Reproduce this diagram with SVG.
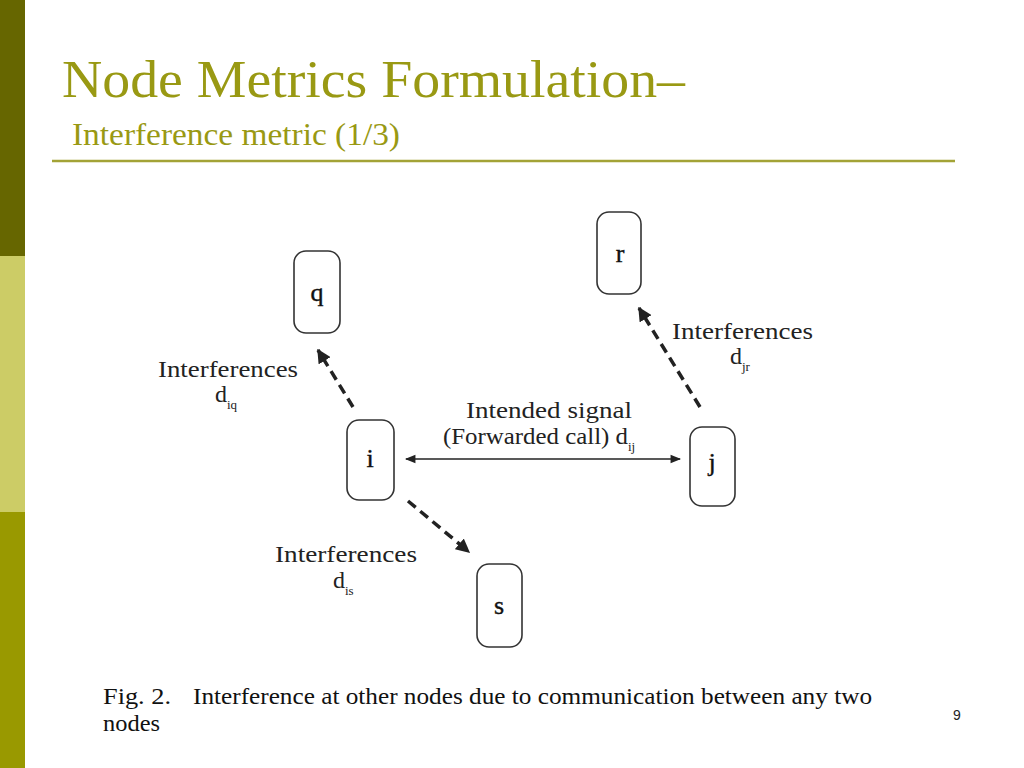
<svg xmlns="http://www.w3.org/2000/svg" width="1024" height="768" viewBox="0 0 1024 768">
<style>
.node rect{fill:#fff;stroke:#333;stroke-width:1.6}
.nl{font-family:"Liberation Serif",serif;font-size:26px;fill:#111;text-anchor:middle;stroke:#111;stroke-width:0.4}
.lbl{font-family:"Liberation Serif",serif;font-size:24px;fill:#222}
.sub{font-size:13px}
.dash{stroke:#222;stroke-width:3.5;stroke-dasharray:10,6;fill:none}
.solid{stroke:#222;stroke-width:1.5;fill:none}
.cap{font-family:"Liberation Serif",serif;font-size:23px;fill:#111}
</style>
<defs>
<marker id="ah" viewBox="0 0 10 10" refX="9" refY="5" markerWidth="4" markerHeight="4" orient="auto" markerUnits="strokeWidth"><path d="M0,0 L10,5 L0,10 z" fill="#222"/></marker>
<marker id="ah2" viewBox="0 0 10 10" refX="9" refY="5" markerWidth="9" markerHeight="7" orient="auto-start-reverse" markerUnits="strokeWidth"><path d="M0,1 L10,5 L0,9 z" fill="#222"/></marker>
</defs>
<rect width="1024" height="768" fill="#fff"/>
<g id="sidebar">
<rect x="0" y="0" width="25" height="256" fill="#666600"/>
<rect x="0" y="256" width="25" height="256" fill="#CCCC66"/>
<rect x="0" y="512" width="25" height="256" fill="#999900"/>
</g>
<g id="title">
<text x="62" y="97" font-family="Liberation Serif,serif" font-size="52" fill="#999913" textLength="623" lengthAdjust="spacingAndGlyphs">Node Metrics Formulation–</text>
<text x="72" y="145" font-family="Liberation Serif,serif" font-size="31" fill="#999913" textLength="328" lengthAdjust="spacingAndGlyphs">Interference metric (1/3)</text>
<line x1="52" y1="161" x2="955" y2="161" stroke="#A3A336" stroke-width="2.5"/>
</g>
<g id="connectors">
<line class="dash" x1="353" y1="407" x2="318" y2="350" marker-end="url(#ah)"/>
<line class="dash" x1="700" y1="407" x2="639" y2="308" marker-end="url(#ah)"/>
<line class="dash" x1="408" y1="501" x2="469" y2="552" marker-end="url(#ah)"/>
<line class="solid" x1="406" y1="459" x2="680" y2="459" marker-start="url(#ah2)" marker-end="url(#ah2)"/>
</g>
<g id="node-q" class="node"><rect x="294" y="251" width="46" height="82" rx="12"/><text class="nl" x="317" y="301">q</text></g>
<g id="node-i" class="node"><rect x="347" y="420" width="47" height="80" rx="12"/><text class="nl" x="370" y="467">i</text></g>
<g id="node-r" class="node"><rect x="597" y="212" width="44" height="82" rx="12"/><text class="nl" x="620" y="262">r</text></g>
<g id="node-j" class="node"><rect x="690" y="427" width="45" height="79" rx="12"/><text class="nl" x="712" y="471">j</text></g>
<g id="node-s" class="node"><rect x="477" y="564" width="45" height="83" rx="12"/><text class="nl" x="499" y="614">s</text></g>
<g id="labels">
<text class="lbl" x="158" y="377" textLength="140" lengthAdjust="spacingAndGlyphs">Interferences</text>
<text class="lbl" x="215" y="402">d<tspan class="sub" dy="7">iq</tspan></text>
<text class="lbl" x="466" y="418" textLength="166" lengthAdjust="spacingAndGlyphs">Intended signal</text>
<text class="lbl" x="443" y="444"><tspan textLength="185" lengthAdjust="spacingAndGlyphs">(Forwarded call) d</tspan><tspan class="sub" dy="7">ij</tspan></text>
<text class="lbl" x="672" y="339" textLength="141" lengthAdjust="spacingAndGlyphs">Interferences</text>
<text class="lbl" x="730" y="364">d<tspan class="sub" dy="7">jr</tspan></text>
<text class="lbl" x="275" y="562" textLength="142" lengthAdjust="spacingAndGlyphs">Interferences</text>
<text class="lbl" x="333" y="588">d<tspan class="sub" dy="7">is</tspan></text>
</g>
<g id="caption">
<text class="cap" x="103" y="704" textLength="68" lengthAdjust="spacingAndGlyphs">Fig. 2.</text>
<text class="cap" x="193" y="704" textLength="679" lengthAdjust="spacingAndGlyphs">Interference at other nodes due to communication between any two</text>
<text class="cap" x="103" y="731" textLength="57" lengthAdjust="spacingAndGlyphs">nodes</text>
<text x="953" y="720" font-family="Liberation Sans,sans-serif" font-size="14" fill="#222">9</text>
</g>
</svg>
